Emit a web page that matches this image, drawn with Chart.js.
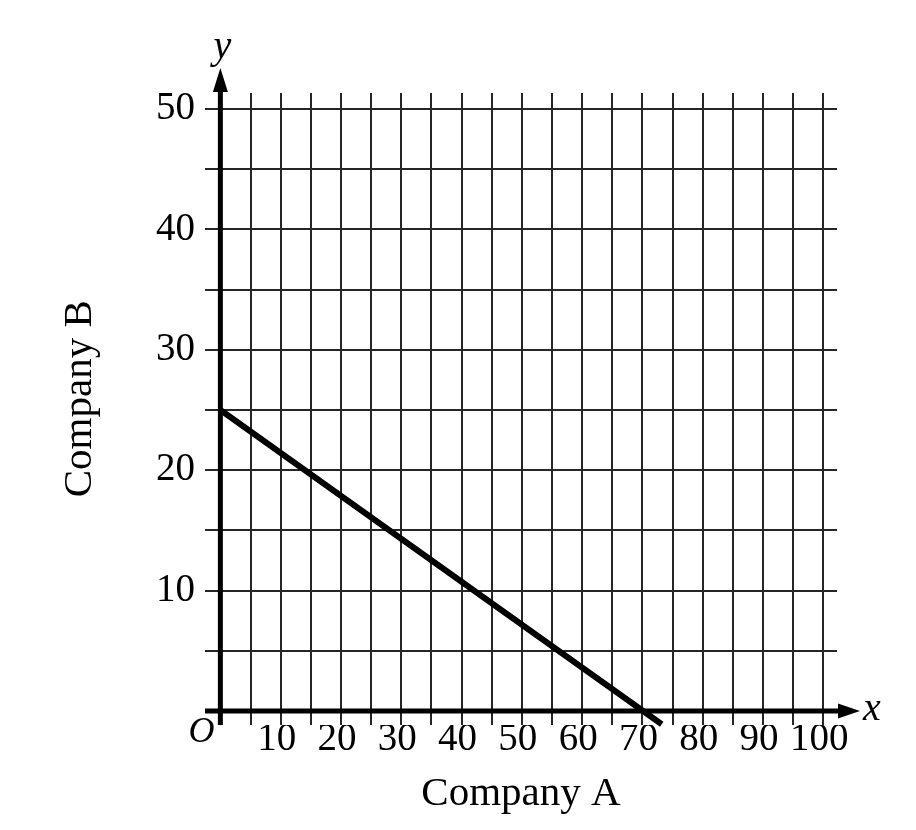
<!DOCTYPE html>
<html>
<head>
<meta charset="utf-8">
<title>Company A and Company B</title>
<script src="https://cdn.jsdelivr.net/npm/chart.js@4.4.1/dist/chart.umd.min.js"></script>
<style>
  html, body { margin: 0; padding: 0; background: #fff; }
  #chart { display: block; }
</style>
</head>
<body>
<canvas id="chart" width="916" height="830"></canvas>
<script>
// grid lines every 5, labels every 10
const xGridValues = [0, 5, 10, 15, 20, 25, 30, 35, 40, 45, 50, 55, 60, 65, 70, 75, 80, 85, 90, 95, 100];
const yGridValues = [0, 5, 10, 15, 20, 25, 30, 35, 40, 45, 50];
const xTickLabels = [10, 20, 30, 40, 50, 60, 70, 80, 90, 100];
const yTickLabels = [10, 20, 30, 40, 50];

// the line: Company A (x) vs Company B (y)
const companyA = [0, 73.2];
const companyB = [25, -1.1];

const serif = '"Liberation Serif", "DejaVu Serif", serif';
const gridColor = '#262626';

const axesPlugin = {
    id: 'axesArrows',
    beforeDatasetsDraw(chart) {
        const { ctx, chartArea, scales: { x, y } } = chart;
        const x0 = x.getPixelForValue(0);
        const y0 = y.getPixelForValue(0);
        const yTip = chartArea.top - 25;
        const xTip = chartArea.right + 23;
        ctx.save();
        ctx.strokeStyle = '#000';
        ctx.fillStyle = '#000';
        ctx.lineWidth = 5;
        // y axis
        ctx.beginPath();
        ctx.moveTo(x0, chartArea.bottom);
        ctx.lineTo(x0, yTip + 18);
        ctx.stroke();
        ctx.beginPath();
        ctx.moveTo(x0, yTip);
        ctx.lineTo(x0 + 7.5, yTip + 24);
        ctx.lineTo(x0 - 7.5, yTip + 24);
        ctx.closePath();
        ctx.fill();
        // x axis
        ctx.beginPath();
        ctx.moveTo(chartArea.left, y0);
        ctx.lineTo(xTip - 18, y0);
        ctx.stroke();
        ctx.beginPath();
        ctx.moveTo(xTip, y0);
        ctx.lineTo(xTip - 22, y0 - 7.5);
        ctx.lineTo(xTip - 22, y0 + 7.5);
        ctx.closePath();
        ctx.fill();
        ctx.restore();
    },
    afterDraw(chart) {
        const { ctx, chartArea, scales: { x, y } } = chart;
        const x0 = x.getPixelForValue(0);
        const y0 = y.getPixelForValue(0);
        ctx.save();
        ctx.fillStyle = '#000';
        ctx.textAlign = 'center';
        ctx.textBaseline = 'alphabetic';
        ctx.font = 'italic 40px ' + serif;
        ctx.fillText('y', x0 + 2, chartArea.top - 35);
        ctx.fillText('x', chartArea.right + 35, y0 + 9);
        ctx.font = 'italic 36px ' + serif;
        ctx.fillText('O', x0 - 19, y0 + 31);
        ctx.restore();
    }
};

const ctx = document.getElementById('chart').getContext('2d');

new Chart(ctx, {
    type: 'line',
    data: {
        datasets: [{
            label: 'Company B',
            data: companyA.map((v, i) => ({ x: v, y: companyB[i] })),
            borderColor: '#000',
            borderWidth: 6,
            borderCapStyle: 'butt',
            pointRadius: 0,
            tension: 0,
            clip: false
        }]
    },
    options: {
        responsive: false,
        animation: false,
        devicePixelRatio: 1,
        layout: {
            padding: { top: 93, right: 79, left: 0, bottom: 0 }
        },
        plugins: {
            legend: { display: false },
            tooltip: { enabled: false }
        },
        scales: {
            x: {
                type: 'linear',
                min: -2.55,
                max: 102.27,
                afterBuildTicks: axis => {
                    axis.ticks = xGridValues.map(v => ({ value: v }));
                },
                afterFit: scale => { scale.height = 105; },
                border: { display: false },
                grid: { color: gridColor, lineWidth: 2, drawTicks: false },
                ticks: {
                    autoSkip: false,
                    maxRotation: 0,
                    padding: 0,
                    labelOffset: -4,
                    color: '#000',
                    font: { family: serif, size: 39, lineHeight: 0.74 },
                    callback: value => xTickLabels.includes(value) ? String(value) : ''
                },
                title: {
                    display: true,
                    text: 'Company A',
                    color: '#000',
                    font: { family: serif, size: 41 },
                    padding: { top: 0, bottom: 11 }
                }
            },
            y: {
                type: 'linear',
                min: -1.16,
                max: 51.33,
                afterBuildTicks: axis => {
                    axis.ticks = yGridValues.map(v => ({ value: v }));
                },
                afterFit: scale => { scale.width = 205; },
                border: { display: false },
                grid: { color: gridColor, lineWidth: 2, drawTicks: false },
                ticks: {
                    autoSkip: false,
                    padding: 10,
                    color: '#000',
                    font: { family: serif, size: 39 },
                    callback: value => yTickLabels.includes(value) ? String(value) : ''
                },
                title: {
                    display: true,
                    text: '  Company B',
                    color: '#000',
                    font: { family: serif, size: 41 },
                    padding: { top: 56, bottom: 0 }
                }
            }
        }
    },
    plugins: [axesPlugin]
});
</script>
</body>
</html>
